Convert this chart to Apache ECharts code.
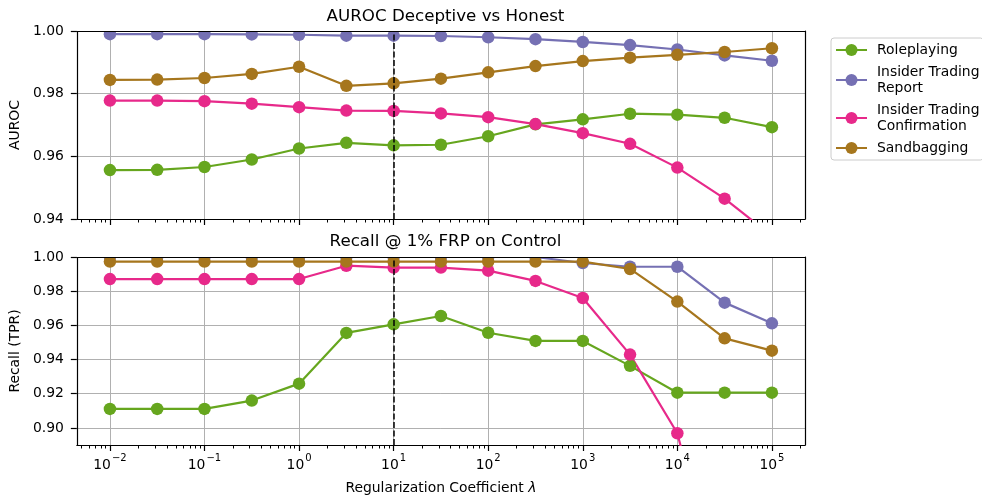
<!DOCTYPE html>
<html><head><meta charset="utf-8">
<script src="https://cdn.jsdelivr.net/npm/echarts@6/dist/echarts.min.js"></script>
<style>html,body{margin:0;padding:0;background:#fff}#c{width:982px;height:497px}</style>
</head><body><div id="c"></div>
<script>
// log10 of the regularization coefficient lambda
const lambdaLog10 = [-2, -1.5, -1, -0.5, 0, 0.5, 1, 1.5, 2, 2.5, 3, 3.5, 4, 4.5, 5];
const seriesNames = ['Roleplaying', 'Insider Trading\nReport', 'Insider Trading\nConfirmation', 'Sandbagging'];
const seriesColors = ['#66a61e', '#7570b3', '#e7298a', '#a6761d'];

const aurocRoleplaying   = [0.9556, 0.9557, 0.9566, 0.9590, 0.9625, 0.9643, 0.9635, 0.9637, 0.9664, 0.9702, 0.9718, 0.9736, 0.9733, 0.9723, 0.9693];
const aurocReport        = [0.9990, 0.9990, 0.9990, 0.9989, 0.9988, 0.9985, 0.9985, 0.9984, 0.9980, 0.9974, 0.9965, 0.9955, 0.9941, 0.9922, 0.9905];
const aurocConfirmation  = [0.9778, 0.9778, 0.9776, 0.9768, 0.9757, 0.9746, 0.9745, 0.9737, 0.9725, 0.9703, 0.9674, 0.9640, 0.9564, 0.9465, 0.9346];
const aurocSandbagging   = [0.9844, 0.9845, 0.9850, 0.9863, 0.9886, 0.9825, 0.9833, 0.9848, 0.9868, 0.9888, 0.9904, 0.9915, 0.9924, 0.9933, 0.9945];

const recallRoleplaying  = [0.9111, 0.9111, 0.9111, 0.9160, 0.9259, 0.9556, 0.9606, 0.9655, 0.9557, 0.9509, 0.9509, 0.9363, 0.9206, 0.9206, 0.9206];
const recallReport       = [1.0000, 1.0000, 1.0000, 1.0000, 1.0000, 1.0000, 1.0000, 1.0000, 1.0000, 1.0000, 0.9965, 0.9943, 0.9943, 0.9733, 0.9612];
const recallConfirmation = [0.9871, 0.9871, 0.9871, 0.9871, 0.9871, 0.9949, 0.9938, 0.9938, 0.9920, 0.9860, 0.9760, 0.9429, 0.8969, 0.7900, 0.6800];
const recallSandbagging  = [0.9973, 0.9973, 0.9973, 0.9973, 0.9973, 0.9973, 0.9973, 0.9973, 0.9973, 0.9973, 0.9973, 0.9930, 0.9739, 0.9524, 0.9452];

const xMajorTicks = [-2, -1, 0, 1, 2, 3, 4, 5];
const aurocTicks = [0.94, 0.96, 0.98, 1.00];
const recallTicks = [0.90, 0.92, 0.94, 0.96, 0.98, 1.00];
const thresholdLog10 = 1;

const X_MIN = -2.35, X_MAX = 5.35;
const minorTicks = [];
for (let k = -3; k <= 5; k++) for (let m = 2; m <= 9; m++) {
  const v = k + Math.log10(m);
  if (v > X_MIN && v < X_MAX) minorTicks.push(v);
}

const FONT = 'DejaVu Sans';
const FS = 13.9;
const grids = [
  { left: 76, top: 31, width: 729, height: 188 },
  { left: 76, top: 257, width: 729, height: 188 }
];
const yRanges = [[0.94, 1.00], [0.89, 1.00]];
const yTickSets = [aurocTicks, recallTicks];
const yNames = ['AUROC', 'Recall (TPR)'];
const aurocSets = [aurocRoleplaying, aurocReport, aurocConfirmation, aurocSandbagging];
const recallSets = [recallRoleplaying, recallReport, recallConfirmation, recallSandbagging];

const spine = { show: true, onZero: false, lineStyle: { color: '#000', width: 1.2 } };
const xAxes = [], yAxes = [], series = [];
for (let g = 0; g < 2; g++) {
  xAxes.push({
    type: 'value', gridIndex: g, min: X_MIN, max: X_MAX, position: 'bottom', z: 0,
    axisLine: spine,
    axisTick: { show: true, customValues: xMajorTicks, length: 6, lineStyle: { color: '#000', width: 1.2 } },
    axisLabel: {
      show: g === 1, customValues: xMajorTicks, margin: 8, color: '#000', fontFamily: FONT,
      formatter: v => { const e = Math.round(v); const s = e < 0 ? '\u2212' + (-e) : '' + e; return '{b|10}{s|' + s + '}'; },
      rich: {
        b: { fontSize: FS, fontFamily: FONT, color: '#000', lineHeight: 19, verticalAlign: 'bottom' },
        s: { fontSize: 10, fontFamily: FONT, color: '#000', lineHeight: 19, verticalAlign: 'top', padding: [0, 0, 0, 1] }
      }
    },
    splitLine: { show: true, lineStyle: { color: '#b0b0b0', width: 1 } },
    name: g === 1 ? 'Regularization Coefficient {i|\u03bb}' : '',
    nameLocation: 'middle', nameGap: 36,
    nameTextStyle: { fontSize: FS, fontFamily: FONT, color: '#000', rich: { i: { fontSize: FS, fontStyle: 'italic', fontFamily: FONT, color: '#000' } } }
  });
  xAxes.push({
    type: 'value', gridIndex: g, min: X_MIN, max: X_MAX, position: 'bottom', z: 0,
    axisLine: { show: false, onZero: false },
    axisTick: { show: true, customValues: minorTicks, length: 3.5, lineStyle: { color: '#000', width: 1 } },
    axisLabel: { show: false }, splitLine: { show: false }
  });
  xAxes.push({
    type: 'value', gridIndex: g, min: X_MIN, max: X_MAX, position: 'top', z: 10,
    axisLine: spine, axisTick: { show: false }, axisLabel: { show: false }, splitLine: { show: false }
  });
  yAxes.push({
    type: 'value', gridIndex: g, min: yRanges[g][0], max: yRanges[g][1], position: 'left', z: 0,
    axisLine: spine,
    axisTick: { show: true, customValues: yTickSets[g], length: 6, lineStyle: { color: '#000', width: 1.2 } },
    axisLabel: { customValues: yTickSets[g], margin: 13, color: '#000', fontSize: FS, fontFamily: FONT, formatter: v => v.toFixed(2) },
    splitLine: { show: true, lineStyle: { color: '#b0b0b0', width: 1 } },
    name: yNames[g], nameLocation: 'middle', nameGap: 53,
    nameTextStyle: { fontSize: FS, fontFamily: FONT, color: '#000' }
  });
  yAxes.push({
    type: 'value', gridIndex: g, min: yRanges[g][0], max: yRanges[g][1], position: 'right', z: 10,
    axisLine: spine, axisTick: { show: false }, axisLabel: { show: false }, splitLine: { show: false }
  });
  const sets = g === 0 ? aurocSets : recallSets;
  sets.forEach((vals, i) => {
    const s = {
      type: 'line', name: seriesNames[i], xAxisIndex: 3 * g, yAxisIndex: 2 * g,
      data: lambdaLog10.map((x, j) => [x, vals[j]]),
      symbol: 'circle', symbolSize: 12.5, clip: true, z: 2,
      lineStyle: { color: seriesColors[i], width: 2.2 },
      itemStyle: { color: seriesColors[i] },
      emphasis: { disabled: true }, animation: false
    };
    if (i === 3) {
      s.markLine = {
        silent: true, symbol: ['none', 'none'], animation: false,
        label: { show: false },
        lineStyle: { color: '#000', type: [6, 2.5], width: 1.5 },
        data: [{ xAxis: thresholdLog10 }]
      };
    }
    series.push(s);
  });
}

const chart = echarts.init(document.getElementById('c'), null, { renderer: 'canvas' });
chart.setOption({
  backgroundColor: '#fff',
  animation: false,
  title: [
    { text: 'AUROC Deceptive vs Honest', left: 440.5, top: 3, textAlign: 'center', z: 20,
      textStyle: { fontSize: 16.7, fontWeight: 'normal', fontFamily: FONT, color: '#000' } },
    { text: 'Recall @ 1% FRP on Control', left: 440.5, top: 228, textAlign: 'center', z: 20,
      textStyle: { fontSize: 16.7, fontWeight: 'normal', fontFamily: FONT, color: '#000' } }
  ],
  legend: {
    data: seriesNames, orient: 'vertical', left: 831, top: 38, selectedMode: false,
    padding: [4, 4, 4, 4], itemGap: 6, itemWidth: 31, itemHeight: 15,
    borderColor: '#cccccc', borderWidth: 1, borderRadius: 3, backgroundColor: '#fff',
    textStyle: { fontSize: FS, fontFamily: FONT, color: '#000', lineHeight: 16, padding: [0, 0, 0, 5] }
  },
  graphic: [
    { type: 'rect', z: 3, silent: true, shape: { x: 77, y: 22, width: 727, height: 9 }, style: { fill: '#fff' } },
    { type: 'rect', z: 3, silent: true, shape: { x: 77, y: 248, width: 727, height: 9 }, style: { fill: '#fff' } }
  ],
  grid: grids,
  xAxis: xAxes,
  yAxis: yAxes,
  series: series
});
</script>
</body></html>
